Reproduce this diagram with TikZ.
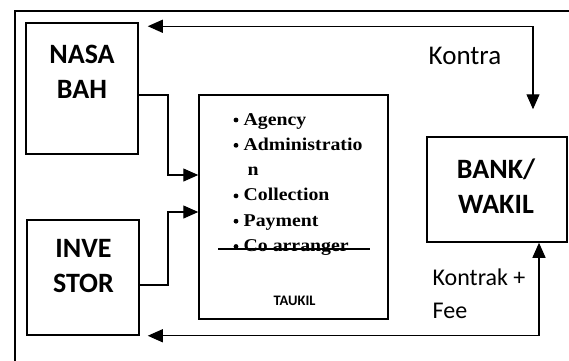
\documentclass[tikz,border=0pt]{standalone}
\usepackage{fontspec}
\usepackage{tikz}
\usetikzlibrary{arrows.meta,calc,positioning}
\newfontfamily\carlito{Carlito}
\newfontfamily\isifont[FakeStretch=1.1]{Liberation Serif}

\begin{document}
\begin{tikzpicture}[x=1pt,y=-1pt,line width=1.3pt,>={Triangle[length=15pt,width=13pt]}]
    \tikzstyle{kotak}=[draw, line width=1.5pt, inner sep=0pt]
    \tikzstyle{judul}=[align=center, inner sep=0pt, font=\carlito\bfseries\fontsize{28}{35}\selectfont]
    \tikzstyle{ket}=[align=left, inner sep=0pt, font=\carlito\fontsize{24}{33}\selectfont]
    \tikzstyle{isi}=[anchor=base west, inner sep=0pt, font=\isifont\bfseries\fontsize{18}{20}\selectfont]
    \useasboundingbox (0,0) rectangle (569,360);
    % bingkai luar
    \draw (15,370) |- (580,11);
    % kotak-kotak
    \node[kotak, minimum width=112pt, minimum height=131pt] (nasa) at (82,88.5) {};
    \node[judul] (nasaT) at (82,71.5) {NASA\\BAH};
    \node[kotak, minimum width=112pt, minimum height=115pt] (investor) at (83,277.5) {};
    \node[judul] (investorT) at (83.5,266.5) {INVE\\STOR};
    \node[kotak, minimum width=140pt, minimum height=105pt] (bank) at (497,189.5) {};
    \node[judul] (bankT) at (496,186.5) {BANK/\\WAKIL};
    \node[kotak, minimum width=189pt, minimum height=224pt] (taukil) at (293.5,207) {};
    % isi taukil
    \foreach \k/\teks in {1/Agency,2/Administratio,4/Collection,5/Payment,6/Co arranger} {
        \fill (236,125+25.3*\k-25.3-5) circle (2.4pt);
        \node[isi] (i\k) at (243,125+25.3*\k-25.3) {\teks};
    }
    \node[isi] (i3) at (247,125+25.3*2) {n};
    \draw[line width=1.2pt] (218,249) -- (370,249);
    \node[font=\carlito\bfseries\fontsize{14.5}{17}\selectfont, anchor=base] (taukilT) at (294.5,305) {TAUKIL};
    % panah
    \draw[->] (nasa.east |- 0,95) -- (168,95) |- (taukil.west |- 0,175);
    \draw[->] (investor.east |- 0,285) -- (168,285) |- (taukil.west |- 0,212);
    \draw[<->] ($(nasa.north east)+(9,4)$) -| ($(bank.north)+(36,-27)$);
    \draw[<->] ($(investor.south east)+(8,0)$) -| ($(bank.south)+(42,0)$);
    \node[ket, font=\carlito\fontsize{27}{30}\selectfont] (kontra) at (465,56) {Kontra};
    \node[ket, anchor=west] (kontrak) at (432,293.5) {Kontrak +\\Fee};
\end{tikzpicture}
\end{document}
